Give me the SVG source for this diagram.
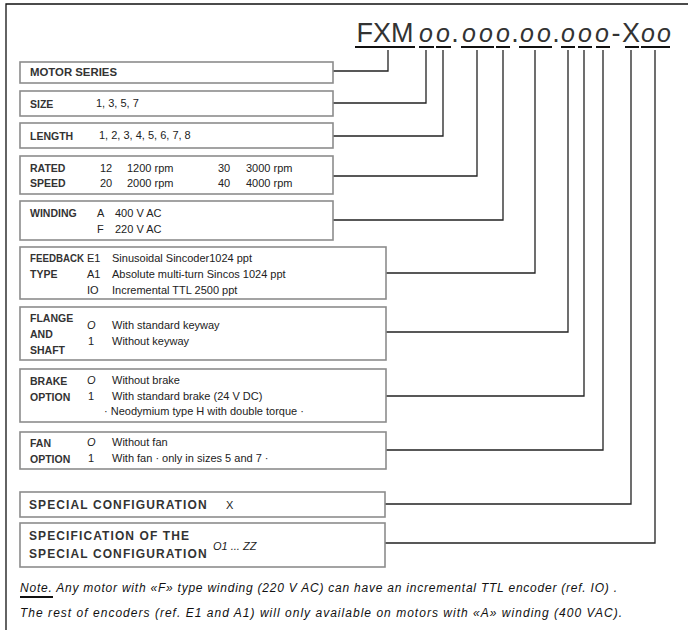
<svg xmlns="http://www.w3.org/2000/svg" width="688" height="630" viewBox="0 0 688 630">
<style>
.frame{fill:none;stroke:#111;stroke-width:1.3}
.box{fill:#fff;stroke:#8c8c8c;stroke-width:1.6}
.con{fill:none;stroke:#222;stroke-width:1.3}
.ul{stroke:#111;stroke-width:2}
.lab{font-family:"Liberation Sans",Arial,sans-serif;font-size:10.5px;font-weight:bold;fill:#333}
.big{font-family:"Liberation Sans",Arial,sans-serif;font-size:12px;font-weight:bold;fill:#333;letter-spacing:1.1px}
.val{font-family:"Liberation Sans",Arial,sans-serif;font-size:11px;fill:#222}
.it{font-style:italic}
.ttl{font-family:"Liberation Sans",Arial,sans-serif;font-size:27px;fill:#333;text-anchor:middle}
.o{font-style:italic;font-size:25px}
.note{font-family:"Liberation Sans",Arial,sans-serif;font-size:12px;font-style:italic;fill:#111}
</style>
<rect width="688" height="630" fill="#fff"/>
<path class="frame" d="M6,630 V4 H688"/>
<g id="title">
<text class="ttl" y="42"><tspan x="385">FXM</tspan><tspan class="o" x="426">o</tspan><tspan class="o" x="443">o</tspan><tspan x="455">.</tspan><tspan class="o" x="469">o</tspan><tspan class="o" x="486">o</tspan><tspan class="o" x="503">o</tspan><tspan x="515">.</tspan><tspan class="o" x="527">o</tspan><tspan class="o" x="544">o</tspan><tspan x="556">.</tspan><tspan class="o" x="568">o</tspan><tspan class="o" x="585">o</tspan><tspan class="o" x="602">o</tspan><tspan x="616">-</tspan><tspan x="631">X</tspan><tspan class="o" x="648">o</tspan><tspan class="o" x="664">o</tspan></text>
<path class="ul" d="M355,47H415 M419,47H434 M436,47H451 M461,47H494 M496,47H510 M519,47H552 M561,47H575 M578,47H592 M596,47H610 M625,47H639 M641,47H670"/>
</g>
<g id="connectors">
<path class="con" d="M333,71H388V50"/>
<path class="con" d="M333,103H426V50"/>
<path class="con" d="M333,136H443V50"/>
<path class="con" d="M333,176H477V50"/>
<path class="con" d="M333,220H503V50"/>
<path class="con" d="M386,273H535V50"/>
<path class="con" d="M386,332H568V50"/>
<path class="con" d="M386,396H584V50"/>
<path class="con" d="M386,450H603V50"/>
<path class="con" d="M385,504H631V50"/>
<path class="con" d="M385,543H655V50"/>
</g>
<g id="motor-series">
<rect class="box" x="20" y="62" width="313" height="21"/>
<text class="lab" x="30" y="76" textLength="87" lengthAdjust="spacingAndGlyphs">MOTOR SERIES</text>
</g>
<g id="size">
<rect class="box" x="20" y="91" width="313" height="25"/>
<text class="lab" x="30" y="108">SIZE</text>
<text class="val" x="96" y="107">1, 3, 5, 7</text>
</g>
<g id="length">
<rect class="box" x="20" y="123" width="313" height="25"/>
<text class="lab" x="30" y="140">LENGTH</text>
<text class="val" x="99" y="139">1, 2, 3, 4, 5, 6, 7, 8</text>
</g>
<g id="rated-speed">
<rect class="box" x="20" y="156" width="313" height="38"/>
<text class="lab" x="30" y="172">RATED</text>
<text class="lab" x="30" y="187">SPEED</text>
<text class="val" y="172"><tspan x="100">12</tspan><tspan x="127">1200 rpm</tspan><tspan x="218">30</tspan><tspan x="246">3000 rpm</tspan></text>
<text class="val" y="187"><tspan x="100">20</tspan><tspan x="127">2000 rpm</tspan><tspan x="218">40</tspan><tspan x="246">4000 rpm</tspan></text>
</g>
<g id="winding">
<rect class="box" x="20" y="201" width="313" height="39"/>
<text class="lab" x="30" y="217">WINDING</text>
<text class="val" y="217"><tspan x="97">A</tspan><tspan x="115">400 V AC</tspan></text>
<text class="val" y="233"><tspan x="97">F</tspan><tspan x="115">220 V AC</tspan></text>
</g>
<g id="feedback-type">
<rect class="box" x="20" y="247" width="366" height="52"/>
<text class="lab" x="30" y="262" textLength="54" lengthAdjust="spacingAndGlyphs">FEEDBACK</text>
<text class="lab" x="30" y="278">TYPE</text>
<text class="val" y="262"><tspan x="87">E1</tspan><tspan x="112">Sinusoidal Sincoder1024 ppt</tspan></text>
<text class="val" y="278"><tspan x="87">A1</tspan><tspan x="112">Absolute multi-turn Sincos 1024 ppt</tspan></text>
<text class="val" y="294"><tspan x="87">IO</tspan><tspan x="112">Incremental TTL 2500 ppt</tspan></text>
</g>
<g id="flange-shaft">
<rect class="box" x="20" y="307" width="366" height="53"/>
<text class="lab" x="30" y="322">FLANGE</text>
<text class="lab" x="30" y="338">AND</text>
<text class="lab" x="30" y="354">SHAFT</text>
<text class="val" y="329"><tspan class="it" x="87">O</tspan><tspan x="112">With standard keyway</tspan></text>
<text class="val" y="345"><tspan x="88">1</tspan><tspan x="112">Without keyway</tspan></text>
</g>
<g id="brake-option">
<rect class="box" x="20" y="369" width="366" height="53"/>
<text class="lab" x="30" y="385">BRAKE</text>
<text class="lab" x="30" y="401">OPTION</text>
<text class="val" y="384"><tspan class="it" x="87">O</tspan><tspan x="112">Without brake</tspan></text>
<text class="val" y="400"><tspan x="88">1</tspan><tspan x="112">With standard brake (24 V DC)</tspan></text>
<text class="val" x="104" y="415">· Neodymium type H with double torque ·</text>
</g>
<g id="fan-option">
<rect class="box" x="20" y="432" width="366" height="37"/>
<text class="lab" x="30" y="447">FAN</text>
<text class="lab" x="30" y="463">OPTION</text>
<text class="val" y="446"><tspan class="it" x="87">O</tspan><tspan x="112">Without fan</tspan></text>
<text class="val" y="462"><tspan x="88">1</tspan><tspan x="112">With fan  · only in sizes 5 and 7 ·</tspan></text>
</g>
<g id="special-configuration">
<rect class="box" x="20" y="492" width="365" height="25"/>
<text class="big" x="29" y="509">SPECIAL CONFIGURATION</text>
<text class="val" x="226" y="509">X</text>
</g>
<g id="specification">
<rect class="box" x="20" y="523" width="365" height="44"/>
<text class="big" x="29" y="540">SPECIFICATION OF THE</text>
<text class="big" x="29" y="558">SPECIAL CONFIGURATION</text>
<text class="val it" x="213" y="550">O1 ... ZZ</text>
</g>
<g id="note">
<text class="note" x="20" y="592" textLength="597" lengthAdjust="spacing">Note.  Any motor with «F» type winding (220 V AC) can have an incremental TTL encoder (ref. IO) .</text>
<path class="ul" d="M20,597H53" stroke-width="1.5"/>
<text class="note" x="20" y="617" textLength="602" lengthAdjust="spacing">The rest of encoders (ref. E1 and A1) will only available on motors with «A» winding (400 VAC).</text>
</g>
</svg>
